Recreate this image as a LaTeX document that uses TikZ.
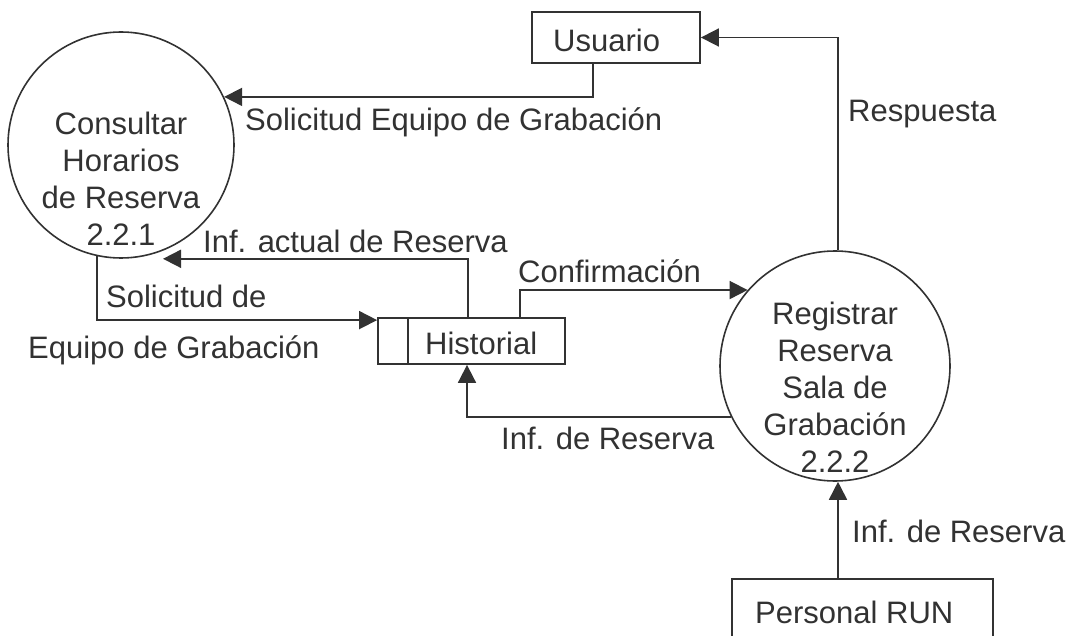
\documentclass[tikz,border=0pt]{standalone}
\usepackage{fontspec}
\setmainfont{Liberation Sans}
\usetikzlibrary{arrows.meta}
\definecolor{ink}{RGB}{50,50,50}
\begin{document}
\begin{tikzpicture}[x=1pt,y=-1pt, font=\fontsize{31}{37}\selectfont, text=ink,
  box/.style={draw=ink, rectangle, inner sep=0pt, line width=1.8pt},
  proc/.style={draw=ink, circle, inner sep=0pt, line width=1.6pt},
  flow/.style={draw=ink, line width=1.8pt, -{Triangle[length=18pt,width=18pt]}},
  lbl/.style={anchor=base west, inner sep=0pt, text=ink},
  ctext/.style={anchor=north, align=center, inner sep=0pt, text=ink}]
\useasboundingbox (0,0) rectangle (1070,636);
\fill[white] (0,0) rectangle (1070,636);
\clip (0,0) rectangle (1070,636);

% nodes
\node[box, minimum width=168pt, minimum height=51pt] (usuario) at (616,37.5) {};
\node[lbl] (usuariot) at (553,52) {Usuario};

\node[proc, minimum size=226pt] (c1) at (121,145) {};
\node[ctext] (c1t) at (121,112) {Consultar\\Horarios\\de Reserva\\2.2.1};

\node[proc, minimum size=230pt] (c2) at (835,366) {};
\node[ctext] (c2t) at (835,302) {Registrar\\Reserva\\Sala de\\Grabación\\2.2.2};

\node[box, minimum width=187pt, minimum height=46pt] (hist) at (471.5,341) {};
\draw[draw=ink, line width=1.8pt] ([xshift=31pt]hist.north west) -- ([xshift=31pt]hist.south west);
\node[lbl] (histt) at (425,354) {Historial};

\node[box, minimum width=261pt, minimum height=81pt] (personal) at (862.5,619.5) {};
\node[lbl] (personalt) at (755,623) {Personal RUN};

% flows
\draw[flow] ([xshift=-23pt]usuario.south) |- (c1.25);
\draw[flow] ([xshift=3pt]c2.north) |- (usuario.east);
\draw[flow] ([xshift=-3.5pt]hist.north) |- ([xshift=42pt]c1.south);
\draw[flow] (c1.258) |- ([yshift=-3pt]hist.north west);
\draw[flow] ([xshift=48.5pt]hist.north) |- (c2.139);
\draw[flow] (c2.206) -| ([xshift=-4.5pt]hist.south);
\draw[flow] ([xshift=-24.5pt]personal.north) -- ([xshift=3pt]c2.south);

% labels
\node[lbl] (l1) at (245,131) {Solicitud Equipo de Grabación};
\node[lbl] (l2) at (848,122) {Respuesta};
\node[lbl] (l3) at (203,253) {Inf. actual de Reserva};
\node[lbl] (l4) at (106,307) {Solicitud de};
\node[lbl] (l5) at (28,358) {Equipo de Grabación};
\node[lbl] (l6) at (518,283) {Confirmación};
\node[lbl] (l7) at (501,449) {Inf. de Reserva};
\node[lbl] (l8) at (852,542) {Inf. de Reserva};
\end{tikzpicture}
\end{document}
